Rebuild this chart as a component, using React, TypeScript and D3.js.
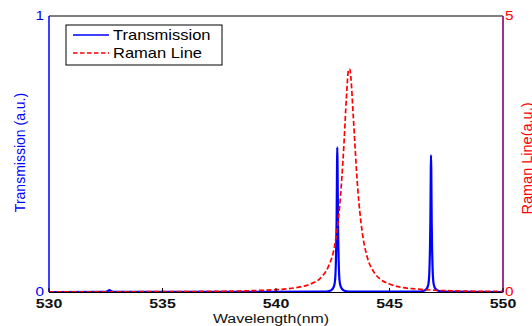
import React from "react";
import * as d3 from "d3";

// X-axis ticks
const xTicks = [530, 535, 540, 545, 550];
const leftTicks = [0, 1];
const rightTicks = [0, 5];

// Transmission series (left axis, 0..1)
const transWavelength = [
  530, 532.4, 532.58, 532.66, 532.74, 532.9,
  542.1, 542.35, 542.5, 542.58, 542.62, 542.65, 542.67, 542.68, 542.69, 542.7,
  542.71, 542.72, 542.73, 542.75, 542.78, 542.82, 542.9, 543.05, 543.3,
  546.23, 546.48, 546.63, 546.71, 546.75, 546.78, 546.8, 546.81, 546.82, 546.83,
  546.84, 546.85, 546.86, 546.88, 546.91, 546.95, 547.03, 547.18, 547.43, 550,
];
const transValue = [
  0, 0.0005, 0.003, 0.007, 0.003, 0.0005,
  0.0013, 0.0038, 0.0117, 0.029, 0.065, 0.154, 0.262, 0.363, 0.472, 0.524,
  0.472, 0.363, 0.262, 0.154, 0.065, 0.029, 0.0117, 0.0038, 0.0013,
  0.0012, 0.0036, 0.011, 0.027, 0.062, 0.146, 0.248, 0.343, 0.447, 0.496,
  0.447, 0.343, 0.248, 0.146, 0.062, 0.027, 0.011, 0.0036, 0.0012, 0,
];

// Raman line series (right axis, 0..5)
const ramanWavelength = [
  530, 535, 538, 539, 540, 540.5, 541, 541.5, 542, 542.3, 542.6, 542.8, 543.0,
  543.1, 543.2, 543.25, 543.3, 543.4, 543.6, 543.8, 544.0, 544.3, 544.6, 545,
  545.5, 546, 547, 548, 550,
];
const ramanValue = [
  0.0025, 0.0065, 0.016, 0.0245, 0.042, 0.058, 0.087, 0.141, 0.27, 0.456, 0.875,
  1.53, 2.73, 3.51, 4.03, 4.04, 3.88, 3.21, 1.88, 1.08, 0.66, 0.37, 0.23, 0.145,
  0.085, 0.06, 0.032, 0.019, 0.0096,
];

const W = 532;
const H = 326;
const left = 49;
const right = 503;
const top = 16;
const bottom = 292;
const FONT = "'Liberation Sans', Arial, Helvetica, sans-serif";
const SX = 1.18;

export default function App() {
  const x = d3.scaleLinear().domain([530, 550]).range([left, right]);
  const yL = d3.scaleLinear().domain([0, 1]).range([bottom, top]);
  const yR = d3.scaleLinear().domain([0, 5]).range([bottom, top]);

  const transPts = transWavelength.map((w, i) => [w, transValue[i]] as [number, number]);
  const ramanPts = ramanWavelength.map((w, i) => [w, ramanValue[i]] as [number, number]);

  const transLine = d3
    .line<[number, number]>()
    .x((d) => x(d[0]))
    .y((d) => yL(d[1]))
    .curve(d3.curveMonotoneX);
  const ramanLine = d3
    .line<[number, number]>()
    .x((d) => x(d[0]))
    .y((d) => yR(d[1]))
    .curve(d3.curveMonotoneX);

  const HText = (p: {
    x: number;
    y: number;
    text: string;
    size: number;
    fill: string;
    anchor?: string;
    bold?: boolean;
  }) => (
    <text
      transform={`translate(${p.x},${p.y}) scale(${SX},1)`}
      fontSize={p.size}
      fontFamily={FONT}
      fontWeight={p.bold ? "bold" : "normal"}
      fill={p.fill}
      textAnchor={p.anchor || "middle"}
    >
      {p.text}
    </text>
  );

  return (
    <svg
      width={W}
      height={H}
      style={{ position: "absolute", left: 0, top: 0, background: "#fff" }}
    >
      <rect x={0} y={0} width={W} height={H} fill="#fff" />

      {/* curves */}
      <path d={transLine(transPts) || ""} fill="none" stroke="#0000ff" strokeWidth={2.2} />
      <path
        d={ramanLine(ramanPts) || ""}
        fill="none"
        stroke="#ff0000"
        strokeWidth={1.7}
        strokeDasharray="5 2.5"
      />

      {/* axes frame */}
      <line x1={left} x2={right} y1={top} y2={top} stroke="#000" strokeWidth={1} />
      <line x1={left} x2={right} y1={bottom + 0.5} y2={bottom + 0.5} stroke="#000" strokeWidth={1.2} />
      <line x1={left} x2={left} y1={top} y2={bottom} stroke="#0000ff" strokeWidth={1.5} />
      <line x1={right} x2={right} y1={top} y2={bottom + 0.5} stroke="#991a73" strokeWidth={1.8} />

      {/* x ticks */}
      {xTicks.map((t) => (
        <g key={t}>
          <line x1={x(t)} x2={x(t)} y1={bottom} y2={bottom - 4} stroke="#000" strokeWidth={1} />
          <HText x={x(t)} y={307.5} text={String(t)} size={13.5} fill="#111" bold />
        </g>
      ))}

      {/* left ticks */}
      {leftTicks.map((t) => (
        <HText key={t} x={44} y={yL(t) + 4.3} text={String(t)} size={13} fill="#0000ff" anchor="end" />
      ))}
      {/* right ticks */}
      {rightTicks.map((t) => (
        <HText key={t} x={505} y={yR(t) + 4.3} text={String(t)} size={13} fill="#ff0000" anchor="start" />
      ))}

      {/* axis labels */}
      <HText x={271} y={323} text="Wavelength(nm)" size={13.5} fill="#111" />
      <text
        transform={`translate(25,152.5) rotate(-90)`}
        fontSize={14}
        fontFamily={FONT}
        fill="#0000ff"
        textAnchor="middle"
      >
        Transmission (a.u.)
      </text>
      <text
        transform={`translate(531.5,158.5) rotate(-90)`}
        fontSize={14.5}
        fontFamily={FONT}
        fill="#ff0000"
        textAnchor="middle"
      >
        Raman Line(a.u.)
      </text>

      {/* legend */}
      <rect x={66} y={25} width={156} height={40} fill="#fff" stroke="#000" strokeWidth={1} />
      <line x1={73} x2={109} y1={35} y2={35} stroke="#0000ff" strokeWidth={1.5} />
      <line
        x1={73}
        x2={109}
        y1={53}
        y2={53}
        stroke="#ff0000"
        strokeWidth={1.5}
        strokeDasharray="4.5 2.5"
      />
      <HText x={113} y={40} text="Transmission" size={14} fill="#000" anchor="start" />
      <HText x={113} y={58} text="Raman Line" size={14} fill="#000" anchor="start" />
    </svg>
  );
}
